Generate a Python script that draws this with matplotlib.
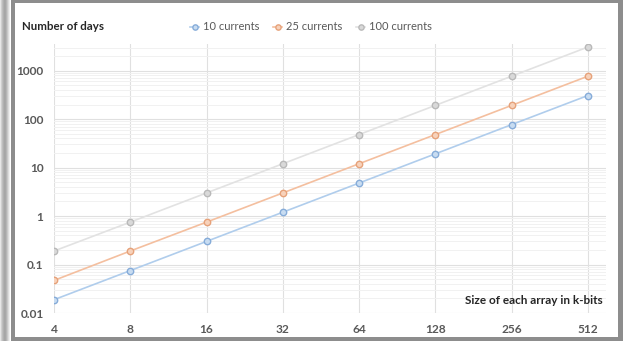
import matplotlib
matplotlib.use("Agg")
import matplotlib.pyplot as plt
from matplotlib.patches import Rectangle
from matplotlib.ticker import FixedLocator, FixedFormatter, LogLocator, NullFormatter
import numpy as np

sizes = [4, 8, 16, 32, 64, 128, 256, 512]
days_10 = [0.0188, 0.075, 0.30, 1.2, 4.8, 19.2, 77, 307]
days_25 = [0.047, 0.19, 0.75, 3.0, 12, 48, 192, 768]
days_100 = [0.19, 0.75, 3.0, 12, 48, 192, 768, 3070]
series_names = ["10 currents", "25 currents", "100 currents"]
y_ticks = [0.01, 0.1, 1, 10, 100, 1000]
y_labels = ["0.01", "0.1", "1", "10", "100", "1000"]

FONT = "Lato"
W, H = 623, 341
fig = plt.figure(figsize=(W / 100, H / 100), dpi=100)
fig.patch.set_facecolor("white")

def px(x, y, w, h, **kw):
    fig.patches.append(Rectangle((x / W, 1 - (y + h) / H), w / W, h / H,
                                 transform=fig.transFigure, zorder=-5, **kw))

# left shadow
for i, c in enumerate(["#e6e6e6", "#cfcfcf", "#bdbdbd", "#b0b0b0", "#a6a6a6",
                       "#a8a8a8", "#b5b5b5", "#c8c8c8", "#dcdcdc", "#eeeeee"]):
    px(i, 0, 1, H, facecolor=c, edgecolor="none")
# frame
px(11, 0, W - 11, H, facecolor="#8d8d8d", edgecolor="none")
px(15, 3, W - 15 - 5, H - 3 - 4, facecolor="white", edgecolor="none")

ax = fig.add_axes([54 / W, (H - 313) / H, (606 - 54) / W, (313 - 44) / H])
ax.set_facecolor("white")
ax.set_xscale("log", base=2)
ax.set_yscale("log")
ax.set_xlim(4, 604)
ax.set_ylim(0.01, 3550)

styles = [
    dict(line="#b0cdec", edge="#86acd9", face="#c8dcf1"),
    dict(line="#f4bf9f", edge="#e6a27a", face="#f7d2bb"),
    dict(line="#e2e2e2", edge="#b9b9b9", face="#d9d9d9"),
]
handles = []
for vals, st, name in zip([days_10, days_25, days_100], styles, series_names):
    h, = ax.plot(sizes, vals, color=st["line"], lw=1.2, marker="o", ms=4.6,
                 mfc=st["face"], mec=st["edge"], mew=1.0, label=name, zorder=3)
    handles.append(h)

ax.xaxis.set_major_locator(FixedLocator(sizes))
ax.xaxis.set_major_formatter(FixedFormatter([str(s) for s in sizes]))
ax.xaxis.set_minor_locator(FixedLocator([]))
ax.yaxis.set_major_locator(FixedLocator(y_ticks))
ax.yaxis.set_major_formatter(FixedFormatter(y_labels))
ax.yaxis.set_minor_locator(LogLocator(base=10, subs=np.arange(2, 10)))
ax.yaxis.set_minor_formatter(NullFormatter())

ax.grid(which="major", axis="both", color="#e0e0e0", lw=0.8)
ax.grid(which="minor", axis="y", color="#f1f1f1", lw=0.7)
ax.set_axisbelow(True)
for s in ax.spines.values():
    s.set_visible(False)
ax.tick_params(which="both", length=0)
ax.tick_params(axis="x", pad=8, labelsize=8.6, labelcolor="#595959")
ax.tick_params(axis="y", pad=7.5, labelsize=8.6, labelcolor="#595959")
for lab in ax.get_xticklabels() + ax.get_yticklabels():
    lab.set_fontfamily(FONT)
    lab.set_fontweight("bold")

fig.text(22 / W, 1 - 26 / H, "Number of days", fontsize=8.3, fontweight="bold",
         color="#262626", family=FONT, va="center", ha="left")
fig.text(603 / W, 1 - 300 / H, "Size of each array in k-bits", fontsize=8.5,
         fontweight="bold", color="#262626", family=FONT,
         va="center", ha="right")

leg = fig.legend(handles=handles, loc="center", bbox_to_anchor=(311 / W, 1 - 27 / H),
                 ncol=3, frameon=False, handlelength=0.8, handletextpad=0.35,
                 columnspacing=1.25, prop=dict(family=FONT, size=8))
for t in leg.get_texts():
    t.set_color("#595959")
for lh in leg.legend_handles:
    lh.set_markersize(3.8)

fig.savefig("out.png", dpi=100, facecolor="white")
